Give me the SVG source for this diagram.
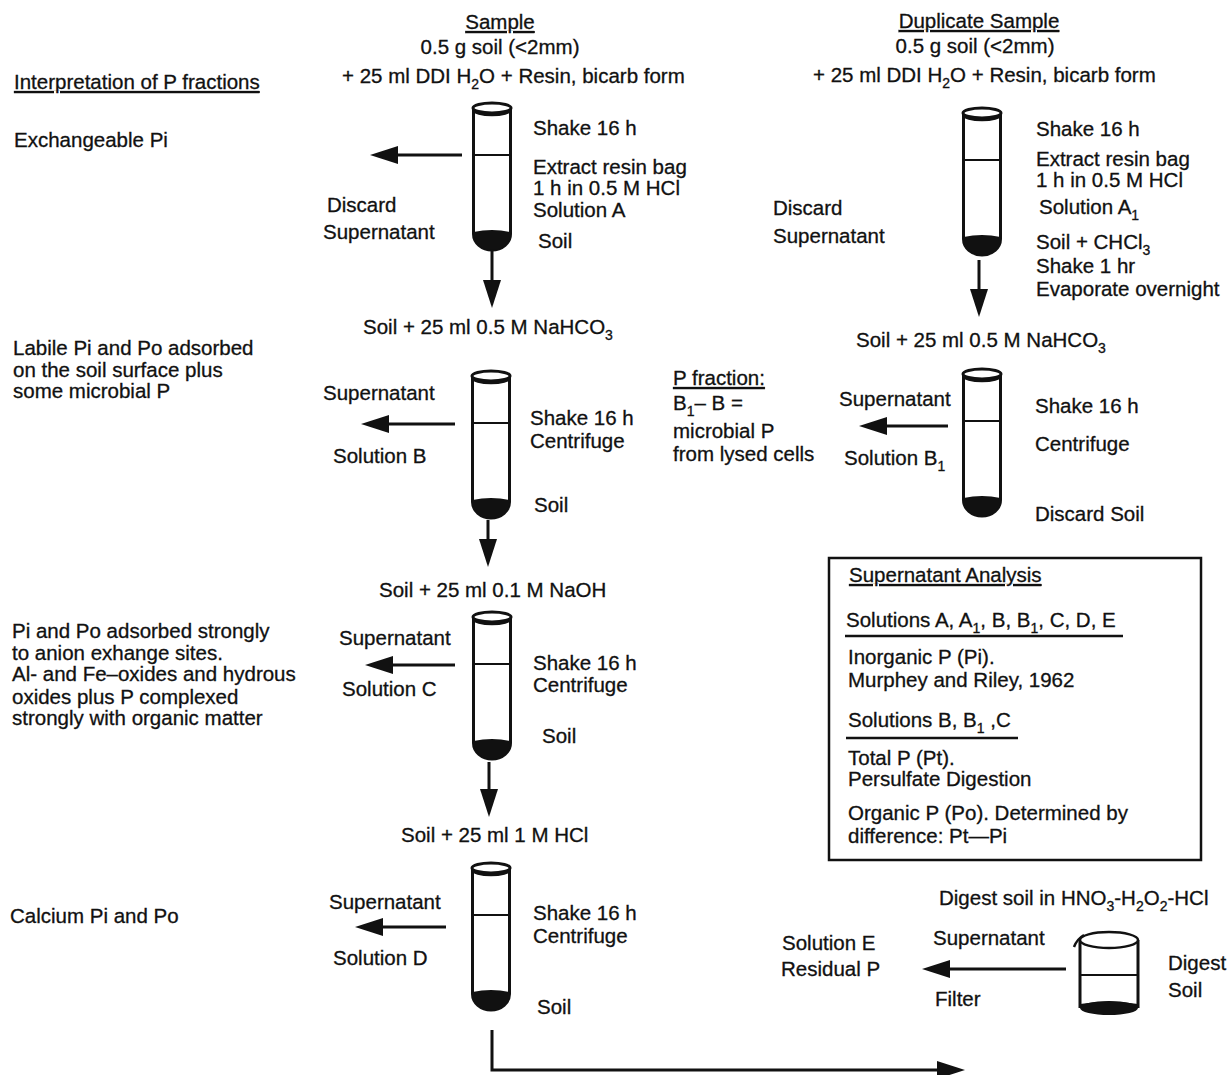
<svg xmlns="http://www.w3.org/2000/svg" width="1227" height="1075" viewBox="0 0 1227 1075">
<style>
text{font-family:"Liberation Sans",Arial,Helvetica,sans-serif;font-size:20.5px;fill:#111;stroke:#111;stroke-width:0.3}
.u{text-decoration:underline}
.m{text-anchor:middle}
.sub{font-size:14px}
.ar{stroke:#111;stroke-width:3;fill:none;marker-end:url(#ah)}
.ln{stroke:#111;stroke-width:3;fill:none}
</style>
<defs>
<marker id="ah" markerUnits="userSpaceOnUse" markerWidth="28" markerHeight="18" refX="20" refY="9" orient="auto">
<path d="M0,0 L28,9 L0,18 Z" fill="#111"/>
</marker>
<g id="tube">
<path d="M1.5,6 V132 A18.5,16 0 0 0 38.5,132 V6" fill="#fff" stroke="#111" stroke-width="3"/>
<path d="M1.5,130 Q20,126 38.5,130 V132 A18.5,16 0 0 1 1.5,132 Z" fill="#111"/>
<ellipse cx="20" cy="6" rx="19" ry="5" fill="#fff" stroke="#111" stroke-width="3"/>
<path d="M1.5,8 A18.5,5 0 0 0 38.5,8" fill="none" stroke="#111" stroke-width="2.5"/>
<line x1="1.5" y1="53" x2="38.5" y2="53" stroke="#111" stroke-width="2"/>
</g>
</defs>
<rect width="1227" height="1075" fill="#fff"/>

<g id="interpretation">
<text x="14" y="89" class="u">Interpretation of P fractions</text>
<text x="14" y="147">Exchangeable Pi</text>
<text x="13" y="355">Labile Pi and Po adsorbed</text>
<text x="13" y="377">on the soil surface plus</text>
<text x="13" y="398">some microbial P</text>
<text x="12" y="638">Pi and Po adsorbed strongly</text>
<text x="12" y="660">to anion exhange sites.</text>
<text x="12" y="681">Al- and Fe–oxides and hydrous</text>
<text x="12" y="704">oxides plus P complexed</text>
<text x="12" y="725">strongly with organic matter</text>
<text x="10" y="923">Calcium Pi and Po</text>
</g>

<g id="sample-header">
<text x="500" y="29" class="m u">Sample</text>
<text x="500" y="54" class="m">0.5 g soil (&lt;2mm)</text>
<text x="342" y="83">+ 25 ml DDI H<tspan class="sub" dy="6">2</tspan><tspan dy="-6">O + Resin, bicarb form</tspan></text>
</g>

<g id="tube1">
<use href="#tube" x="472" y="102"/>
<text x="533" y="135">Shake 16 h</text>
<text x="533" y="174">Extract resin bag</text>
<text x="533" y="195">1 h in 0.5 M HCl</text>
<text x="533" y="217">Solution A</text>
<text x="538" y="248">Soil</text>
<text x="327" y="212">Discard</text>
<text x="323" y="239">Supernatant</text>
</g>

<g id="duplicate-header">
<text x="979" y="28" class="m u">Duplicate Sample</text>
<text x="975" y="53" class="m">0.5 g soil (&lt;2mm)</text>
<text x="813" y="82">+ 25 ml DDI H<tspan class="sub" dy="6">2</tspan><tspan dy="-6">O + Resin, bicarb form</tspan></text>
</g>

<g id="tube2">
<use href="#tube" x="962" y="107"/>
<text x="1036" y="136">Shake 16 h</text>
<text x="1036" y="166">Extract resin bag</text>
<text x="1036" y="187">1 h in 0.5 M HCl</text>
<text x="1039" y="214">Solution A<tspan class="sub" dy="6">1</tspan></text>
<text x="1036" y="249">Soil + CHCl<tspan class="sub" dy="6">3</tspan></text>
<text x="1036" y="273">Shake 1 hr</text>
<text x="1036" y="296">Evaporate overnight</text>
<text x="773" y="215">Discard</text>
<text x="773" y="243">Supernatant</text>
</g>

<g id="tube3">
<text x="363" y="334">Soil + 25 ml 0.5 M NaHCO<tspan class="sub" dy="6">3</tspan></text>
<use href="#tube" x="471" y="370"/>
<text x="323" y="400">Supernatant</text>
<text x="333" y="463">Solution B</text>
<text x="530" y="425">Shake 16 h</text>
<text x="530" y="448">Centrifuge</text>
<text x="534" y="512">Soil</text>
</g>

<g id="tube4">
<text x="856" y="347">Soil + 25 ml 0.5 M NaHCO<tspan class="sub" dy="6">3</tspan></text>
<use href="#tube" x="962" y="368"/>
<text x="839" y="406">Supernatant</text>
<text x="844" y="465">Solution B<tspan class="sub" dy="6">1</tspan></text>
<text x="1035" y="413">Shake 16 h</text>
<text x="1035" y="451">Centrifuge</text>
<text x="1035" y="521">Discard Soil</text>
</g>

<g id="p-fraction">
<text x="673" y="385" class="u">P fraction:</text>
<text x="673" y="410">B<tspan class="sub" dy="6">1</tspan><tspan dy="-6">– B =</tspan></text>
<text x="673" y="438">microbial P</text>
<text x="673" y="461">from lysed cells</text>
</g>

<g id="supernatant-analysis">
<rect x="829" y="558" width="372" height="302" fill="none" stroke="#111" stroke-width="2.5"/>
<text x="849" y="582" class="u">Supernatant Analysis</text>
<text x="846" y="627">Solutions A, A<tspan class="sub" dy="6">1</tspan><tspan dy="-6">, B, B</tspan><tspan class="sub" dy="6">1</tspan><tspan dy="-6">, C, D, E</tspan></text>
<line x1="845" y1="636" x2="1123" y2="636" stroke="#111" stroke-width="2.5"/>
<text x="848" y="664">Inorganic P (Pi).</text>
<text x="848" y="687">Murphey and Riley, 1962</text>
<text x="848" y="727">Solutions B, B<tspan class="sub" dy="6">1</tspan><tspan dy="-6"> ,C</tspan></text>
<line x1="846" y1="738" x2="1018" y2="738" stroke="#111" stroke-width="2.5"/>
<text x="848" y="765">Total P (Pt).</text>
<text x="848" y="786">Persulfate Digestion</text>
<text x="848" y="820">Organic P (Po).  Determined by</text>
<text x="848" y="843">difference: Pt—Pi</text>
</g>

<g id="tube5">
<text x="379" y="597">Soil + 25 ml 0.1 M NaOH</text>
<use href="#tube" x="472" y="611"/>
<text x="339" y="645">Supernatant</text>
<text x="342" y="696">Solution C</text>
<text x="533" y="670">Shake 16 h</text>
<text x="533" y="692">Centrifuge</text>
<text x="542" y="743">Soil</text>
</g>

<g id="tube6">
<text x="401" y="842">Soil + 25 ml 1 M HCl</text>
<use href="#tube" x="471" y="862"/>
<text x="329" y="909">Supernatant</text>
<text x="333" y="965">Solution D</text>
<text x="533" y="920">Shake 16 h</text>
<text x="533" y="943">Centrifuge</text>
<text x="537" y="1014">Soil</text>
</g>

<g id="digest">
<text x="939" y="905">Digest soil in HNO<tspan class="sub" dy="6">3</tspan><tspan dy="-6">-H</tspan><tspan class="sub" dy="6">2</tspan><tspan dy="-6">O</tspan><tspan class="sub" dy="6">2</tspan><tspan dy="-6">-HCl</tspan></text>
<path d="M1080,940 V1008 M1138,940 V1008" class="ln"/>
<ellipse cx="1109" cy="1008" rx="29" ry="7" fill="#111"/>
<path d="M1080,1004 Q1109,999 1138,1004 V1008 H1080 Z" fill="#111"/>
<line x1="1080" y1="975" x2="1138" y2="975" stroke="#111" stroke-width="2"/>
<ellipse cx="1109" cy="940" rx="29" ry="8" fill="#fff" stroke="#111" stroke-width="2.5"/>
<path d="M1084,935 Q1077,939 1074,947" fill="none" stroke="#111" stroke-width="2.5"/>
<text x="933" y="945">Supernatant</text>
<text x="935" y="1006">Filter</text>
<text x="1168" y="970">Digest</text>
<text x="1168" y="997">Soil</text>
</g>

<g id="solution-e">
<text x="782" y="950">Solution E</text>
<text x="781" y="976">Residual P</text>
</g>

<g id="connectors">
<line x1="462" y1="155" x2="378" y2="155" class="ar"/>
<line x1="492" y1="251" x2="492" y2="300" class="ar"/>
<line x1="979" y1="260" x2="979" y2="309" class="ar"/>
<line x1="455" y1="424" x2="369" y2="424" class="ar"/>
<line x1="948" y1="426" x2="867" y2="426" class="ar"/>
<line x1="488" y1="520" x2="488" y2="559" class="ar"/>
<line x1="455" y1="665" x2="373" y2="665" class="ar"/>
<line x1="489" y1="762" x2="489" y2="809" class="ar"/>
<line x1="446" y1="927" x2="363" y2="927" class="ar"/>
<line x1="1066" y1="969" x2="930" y2="969" class="ar"/>
<polyline points="492,1030 492,1070 957,1070" class="ar"/>
</g>
</svg>
